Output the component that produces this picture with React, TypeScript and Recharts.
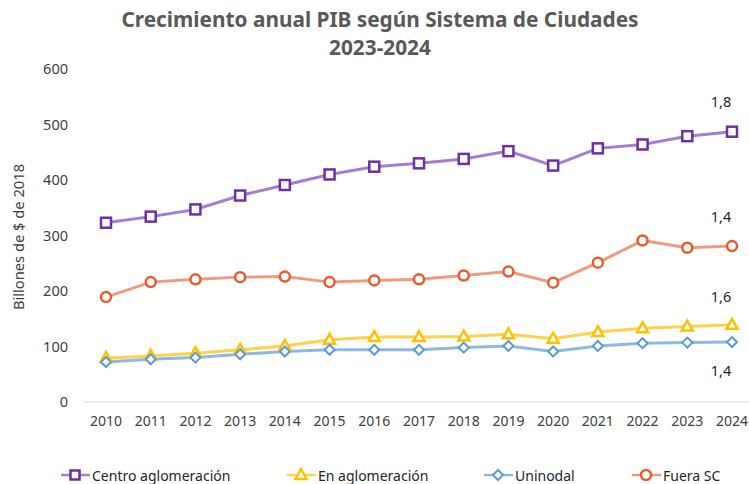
import React from "react";
import { LineChart, Line, XAxis, YAxis, Legend } from "recharts";

const years = ["2010","2011","2012","2013","2014","2015","2016","2017","2018","2019","2020","2021","2022","2023","2024"];
const centro = [323, 334, 347, 372, 391, 410, 424, 430, 438, 452, 426, 457, 464, 479, 487];
const enAglo = [79, 83, 88, 94, 101, 112, 117, 117, 118, 122, 114, 126, 133, 136, 139];
const uninodal = [72, 77, 80, 86, 91, 94, 94, 94, 98, 101, 91, 101, 106, 107, 108];
const fuera = [189, 216, 221, 225, 226, 216, 219, 221, 228, 235, 215, 251, 291, 278, 281];
const yTicks = [0, 100, 200, 300, 400, 500, 600];
const endLabels = { centro: "1,8", fuera: "1,4", enAglo: "1,6", uninodal: "1,4" };

const data = years.map((y, i) => ({
  year: y,
  centro: centro[i],
  enAglo: enAglo[i],
  uninodal: uninodal[i],
  fuera: fuera[i],
}));

const FONT = "'Noto Sans', 'Open Sans', sans-serif";

const C = {
  centro: { line: "#A57FCF", mark: "#7030A0" },
  enAglo: { line: "#FFD24D", mark: "#FFC000" },
  uninodal: { line: "#8FB8E3", mark: "#5B9BD5" },
  fuera: { line: "#F29A80", mark: "#EA5A2E" },
};

const Square = (p: any) => {
  const { cx, cy, stroke } = p;
  if (cx == null || cy == null) return null;
  const s = p.size ?? 10;
  return <rect key={p.index} x={cx - s / 2} y={cy - s / 2} width={s} height={s} fill="#fff" stroke={stroke} strokeWidth={2.5} />;
};
const Triangle = (p: any) => {
  const { cx, cy, stroke } = p;
  if (cx == null || cy == null) return null;
  const w = 11, h = 10;
  const d = `M${cx},${cy - h * 0.6} L${cx + w / 2},${cy + h * 0.4} L${cx - w / 2},${cy + h * 0.4} Z`;
  return <path key={p.index} d={d} fill="#fff" stroke={stroke} strokeWidth={2.5} strokeLinejoin="miter" />;
};
const Diamond = (p: any) => {
  const { cx, cy, stroke } = p;
  if (cx == null || cy == null) return null;
  const r = 5;
  const d = `M${cx},${cy - r} L${cx + r},${cy} L${cx},${cy + r} L${cx - r},${cy} Z`;
  return <path key={p.index} d={d} fill="#fff" stroke={stroke} strokeWidth={2} />;
};
const Circle = (p: any) => {
  const { cx, cy, stroke } = p;
  if (cx == null || cy == null) return null;
  return <circle key={p.index} cx={cx} cy={cy} r={5} fill="#fff" stroke={stroke} strokeWidth={2.5} />;
};

const endLabel = (text: string, dy: number) => (props: any) => {
  const { x, y, index } = props;
  if (index !== years.length - 1) return null;
  return (
    <text x={x - 11} y={y + dy} textAnchor="middle" dominantBaseline="central" fontFamily={FONT} fontSize={14.5} fill="#262626">
      {text}
    </text>
  );
};

const legendItems = [
  { label: "Centro aglomeración", key: "centro", shape: "square", x: 61 },
  { label: "En aglomeración", key: "enAglo", shape: "triangle", x: 287 },
  { label: "Uninodal", key: "uninodal", shape: "diamond", x: 484 },
  { label: "Fuera SC", key: "fuera", shape: "circle", x: 632 },
];

const LegendContent = () => (
  <svg width={749} height={20} style={{ display: "block" }}>
    {legendItems.map((it) => {
      const c = (C as any)[it.key];
      const cx = it.x + 14, cy = 10;
      let marker: any = null;
      if (it.shape === "square") marker = <Square cx={cx} cy={cy} size={9} stroke={c.mark} />;
      if (it.shape === "triangle") marker = <Triangle cx={cx} cy={cy} stroke={c.mark} />;
      if (it.shape === "diamond") marker = <Diamond cx={cx} cy={cy} stroke={c.mark} />;
      if (it.shape === "circle") marker = <Circle cx={cx} cy={cy} stroke={c.mark} />;
      return (
        <g key={it.key}>
          <line x1={it.x} y1={cy} x2={it.x + 29} y2={cy} stroke={c.line} strokeWidth={2.5} />
          {marker}
          <text x={it.x + 31} y={cy} dominantBaseline="central" fontFamily={FONT} fontSize={14} fill="#262626">
            {it.label}
          </text>
        </g>
      );
    })}
  </svg>
);

export default function App() {
  return (
    <div style={{ position: "absolute", left: 0, top: 0, width: 749, height: 484, background: "#fff" }}>
      <div
        style={{
          position: "absolute",
          left: 0,
          top: 5,
          width: 760,
          textAlign: "center",
          fontFamily: FONT,
          fontWeight: 700,
          fontSize: 20.8,
          lineHeight: "28px",
          color: "#595959",
          zIndex: 2,
        }}
      >
        Crecimiento anual PIB según Sistema de Ciudades
        <br />
        2023-2024
      </div>
      <LineChart width={749} height={484} data={data} margin={{ top: 69, right: 0, left: 0, bottom: 32 }}>
        <XAxis
          dataKey="year"
          scale="point"
          padding={{ left: 22, right: 17 }}
          axisLine={{ stroke: "#D9D9D9", strokeWidth: 1 }}
          tickLine={false}
          tickSize={0}
          tickMargin={14}
          height={30}
          tick={{ fontFamily: FONT, fontSize: 14, fill: "#404040" }}
          interval={0}
        />
        <YAxis
          domain={[0, 600]}
          ticks={yTicks}
          width={84}
          axisLine={false}
          tickLine={false}
          tickSize={0}
          tickMargin={16}
          tick={{ fontFamily: FONT, fontSize: 14.5, fill: "#404040" }}
          label={(props: any) => (
            <text
              x={18}
              y={237}
              transform="rotate(-90, 18, 237)"
              textAnchor="middle"
              dominantBaseline="central"
              fontFamily={FONT}
              fontSize={14.7}
              fill="#404040"
            >
              Billones de $ de 2018
            </text>
          )}
        />
        <Legend
          verticalAlign="bottom"
          content={<LegendContent />}
          wrapperStyle={{ left: 0, top: 465, width: 749, height: 20 }}
        />
        <Line dataKey="centro" stroke={C.centro.line} strokeWidth={3} isAnimationActive={false}
          dot={(p: any) => <Square {...p} stroke={C.centro.mark} />} label={endLabel(endLabels.centro, -31)} />
        <Line dataKey="fuera" stroke={C.fuera.line} strokeWidth={3} isAnimationActive={false}
          dot={(p: any) => <Circle {...p} stroke={C.fuera.mark} />} label={endLabel(endLabels.fuera, -30)} />
        <Line dataKey="enAglo" stroke={C.enAglo.line} strokeWidth={3} isAnimationActive={false}
          dot={(p: any) => <Triangle {...p} stroke={C.enAglo.mark} />} label={endLabel(endLabels.enAglo, -29)} />
        <Line dataKey="uninodal" stroke={C.uninodal.line} strokeWidth={3} isAnimationActive={false}
          dot={(p: any) => <Diamond {...p} stroke={C.uninodal.mark} />} label={endLabel(endLabels.uninodal, 28)} />
      </LineChart>
    </div>
  );
}
